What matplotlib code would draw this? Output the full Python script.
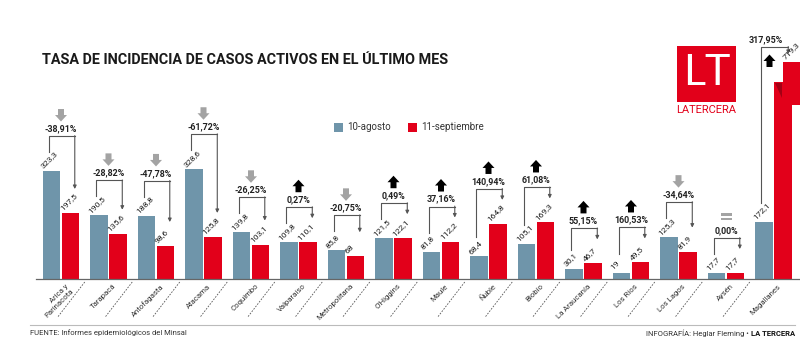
import matplotlib
matplotlib.use("Agg")
import matplotlib.pyplot as plt
from matplotlib.patches import Polygon, Rectangle
import numpy as np

# ---------------- data ----------------
regions = ["Arica y\nParinacota", "Tarapacá", "Antofagasta", "Atacama", "Coquimbo",
           "Valparaíso", "Metropolitana", "O'Higgins", "Maule", "Ñuble", "Biobío",
           "La Araucanía", "Los Ríos", "Los Lagos", "Aysén", "Magallanes"]
agosto = [323.3, 190.5, 188.8, 328.6, 139.8, 109.8, 85.8, 121.5, 81.8, 68.4, 105.1,
          30.1, 19, 125.3, 17.7, 172.1]
septiembre = [197.5, 135.6, 98.6, 125.8, 103.1, 110.1, 68, 122.1, 112.2, 164.8, 169.3,
              46.7, 49.5, 81.9, 17.7, 719.3]
variacion = [-38.91, -28.82, -47.78, -61.72, -26.25, 0.27, -20.75, 0.49, 37.16, 140.94,
             61.08, 55.15, 160.53, -34.64, 0.00, 317.95]
series_names = ["10-agosto", "11-septiembre"]

# ---------------- style ----------------
BLUE = "#6f95aa"
RED = "#e2001a"
DARK = "#333333"
GRAY_ICON = "#a3a3a3"
FONT = ["Roboto", "DejaVu Sans"]

W, H = 800, 340
X0, DXP = 61.0, 47.5      # px of first group centre, px per group
Y0, SY = 279.0, 0.334     # baseline px, px per unit
BREAK = 590               # level where the Magallanes bar is broken

fig = plt.figure(figsize=(8, 3.4), dpi=100)
fig.patch.set_facecolor("white")
ax = fig.add_axes([0, (H - Y0) / H, 1, Y0 / H])
ax.set_xlim(-X0 / DXP, (W - X0) / DXP)
ax.set_ylim(0, Y0 / SY)
ax.axis("off")

def dx(p):
    return p / DXP

def dy(p):
    return p / SY

def fpx(x, y):
    return x / W, 1 - y / H

idx = np.arange(len(regions))
bw = 0.36
off = 0.2
blue_x = idx - off
red_x = idx + off
red_draw = [min(v, BREAK) for v in septiembre]

ax.bar(blue_x, agosto, width=bw, color=BLUE, zorder=2)
ax.bar(red_x, red_draw, width=bw, color=RED, zorder=2)

def fmt(v):
    return f"{v:g}".replace(".", ",")

# baseline
ax.plot([dx(36 - X0), (W - X0) / DXP], [0, 0], color="#666666", lw=0.9, zorder=3, clip_on=False)

# broken top of bars exceeding BREAK
for i, v in enumerate(septiembre):
    if v > BREAK:
        top_lo, top_hi = BREAK - dy(23), BREAK + dy(20)
        ax.bar(red_x[i] + 0.18, top_hi - top_lo, bottom=top_lo, width=bw, color=RED, zorder=2)
        xl = red_x[i] - bw / 2
        ax.add_patch(Polygon([(xl + dx(1), BREAK - dy(1)), (xl + dx(8), BREAK - dy(1)),
                              (xl + dx(8), BREAK - dy(16))], closed=True,
                             color="#a30014", zorder=3, lw=0))

# value labels
LBL = 6.1
LBLC = "#1e1e1e"
for i in idx:
    ax.text(blue_x[i] - bw / 2 + dx(1), agosto[i] + dy(1.5), fmt(agosto[i]), rotation=45,
            rotation_mode="anchor", ha="left", va="bottom", fontsize=LBL,
            family=FONT, color=LBLC, zorder=4)
    if septiembre[i] > BREAK:
        rx, ry = red_x[i] + 0.18 - bw / 2 + dx(3), BREAK + dy(20) + dy(2)
    else:
        rx, ry = red_x[i] - bw / 2 + dx(1), septiembre[i] + dy(1.5)
    ax.text(rx, ry, fmt(septiembre[i]), rotation=45, rotation_mode="anchor",
            ha="left", va="bottom", fontsize=LBL, family=FONT, color=LBLC, zorder=4,
            clip_on=False)

# icons
def up_arrow(cx, cy, color):
    pts = [(-6, 0), (0, 6.5), (6, 0), (3, 0), (3, -6), (-3, -6), (-3, 0)]
    ax.add_patch(Polygon([(cx + dx(a), cy + dy(b)) for a, b in pts], closed=True,
                         color=color, lw=0, clip_on=False, zorder=4))

def down_arrow(cx, cy, color):
    pts = [(-6, 0), (0, -6.5), (6, 0), (3, 0), (3, 6), (-3, 6), (-3, 0)]
    ax.add_patch(Polygon([(cx + dx(a), cy + dy(b)) for a, b in pts], closed=True,
                         color=color, lw=0, clip_on=False, zorder=4))

def equals(cx, cy, color):
    for yo in (1.2, -3.2):
        ax.add_patch(Rectangle((cx - dx(5.5), cy + dy(yo)), dx(11), dy(2.4), color=color,
                               lw=0, clip_on=False, zorder=4))

LINE = "#555555"
PCT = 6.4
for i in idx:
    vb, vr = agosto[i], septiembre[i]
    gc = idx[i]
    xl = blue_x[i] - 0.06
    xr = red_x[i] + 0.09
    pct = f"{variacion[i]:.2f}%".replace(".", ",")
    if vr > BREAK:
        yb = dy(Y0 - 47)
        ax.plot([xl, xl, xr + 0.02], [vb + dy(19), yb, yb], color=LINE, lw=0.8,
                clip_on=False, zorder=3)
        ax.annotate("", xy=(xr + 0.02, yb - dy(7)), xytext=(xr + 0.02, yb + dy(0.4)),
                    arrowprops=dict(arrowstyle="-|>", lw=0.8, color=LINE,
                                    mutation_scale=5, shrinkA=0, shrinkB=0))
        ax.text(gc - dx(8), yb + dy(7), pct, ha="center", va="center", fontsize=PCT,
                family=FONT, fontweight="bold", color="#222222", clip_on=False)
        up_arrow(gc - dx(4), yb - dy(14), "black")
        continue
    yb = max(vb, vr) + dy(35)
    ax.plot([xl, xl, xr], [vb + dy(19), yb, yb], color=LINE, lw=0.8, zorder=3,
            clip_on=False)
    ax.annotate("", xy=(xr, vr + dy(24)), xytext=(xr, yb + dy(0.4)),
                arrowprops=dict(arrowstyle="-|>", lw=0.8, color=LINE,
                                mutation_scale=5, shrinkA=0, shrinkB=0))
    ax.text(gc, yb + dy(7.5), pct, ha="center", va="center", fontsize=PCT,
            family=FONT, fontweight="bold", color="#222222")
    icy = yb + dy(21)
    if variacion[i] > 0:
        up_arrow(gc, icy, "black")
    elif variacion[i] < 0:
        down_arrow(gc, icy, GRAY_ICON)
    else:
        equals(gc, icy, GRAY_ICON)

# category labels and dashed separators
for i in idx:
    ax.text(idx[i] + dx(4), -dy(4), regions[i], rotation=45, rotation_mode="anchor",
            ha="right", va="top", fontsize=5.6, family=FONT, color=DARK,
            multialignment="right", clip_on=False, linespacing=1.3)
for i in idx[:-1]:
    sx = i + 0.5
    ax.plot([sx, sx - dx(27)], [-dy(3), -dy(38)], color="#555555", lw=0.6,
            ls=(0, (2, 1.6)), clip_on=False)

# title
fig.text(*fpx(42, 60), "TASA DE INCIDENCIA DE CASOS ACTIVOS EN EL ÚLTIMO MES",
         ha="left", va="center", fontsize=10.4, fontweight="bold", family=FONT,
         color="#1a1a1a")

# legend
for (x, name, c) in [(334, series_names[0], BLUE), (408, series_names[1], RED)]:
    fig.add_artist(Rectangle(fpx(x, 132), 9 / W, 9 / H, color=c, lw=0,
                             transform=fig.transFigure))
    fig.text(*fpx(x + 13, 127.5), name, ha="left", va="center", fontsize=7,
             family=FONT, color=DARK)

# logo
fig.add_artist(Rectangle(fpx(677, 102), 59 / W, 56 / H, color=RED, lw=0,
                         transform=fig.transFigure))
fig.text(*fpx(706.5, 73), "LT", ha="center", va="center", fontsize=31,
         family=["Lato", "DejaVu Sans"], color="white")
fig.text(*fpx(706.5, 110.5), "LATERCERA", ha="center", va="center", fontsize=8,
         family=FONT, color=RED)

# footer
fig.add_artist(plt.Line2D([30 / W, 795 / W], [1 - 325 / H, 1 - 325 / H],
                          color="#bbbbbb", lw=0.8, transform=fig.transFigure))
fig.text(*fpx(30, 333), "FUENTE: Informes epidemiológicos del Minsal", ha="left",
         va="center", fontsize=5.5, family=FONT, color=DARK)
t_lt = fig.text(*fpx(795, 333), "LA TERCERA", ha="right", va="center", fontsize=5.5,
                family=FONT, color="#111111", fontweight="bold")
renderer = fig.canvas.get_renderer()
bb = t_lt.get_window_extent(renderer=renderer)
fig.text((bb.x0 - 2) / W, 1 - 333 / H, "INFOGRAFÍA: Heglar Fleming •", ha="right",
         va="center", fontsize=5.5, family=FONT, color=DARK)

fig.savefig("out.png", dpi=100, facecolor="white")
